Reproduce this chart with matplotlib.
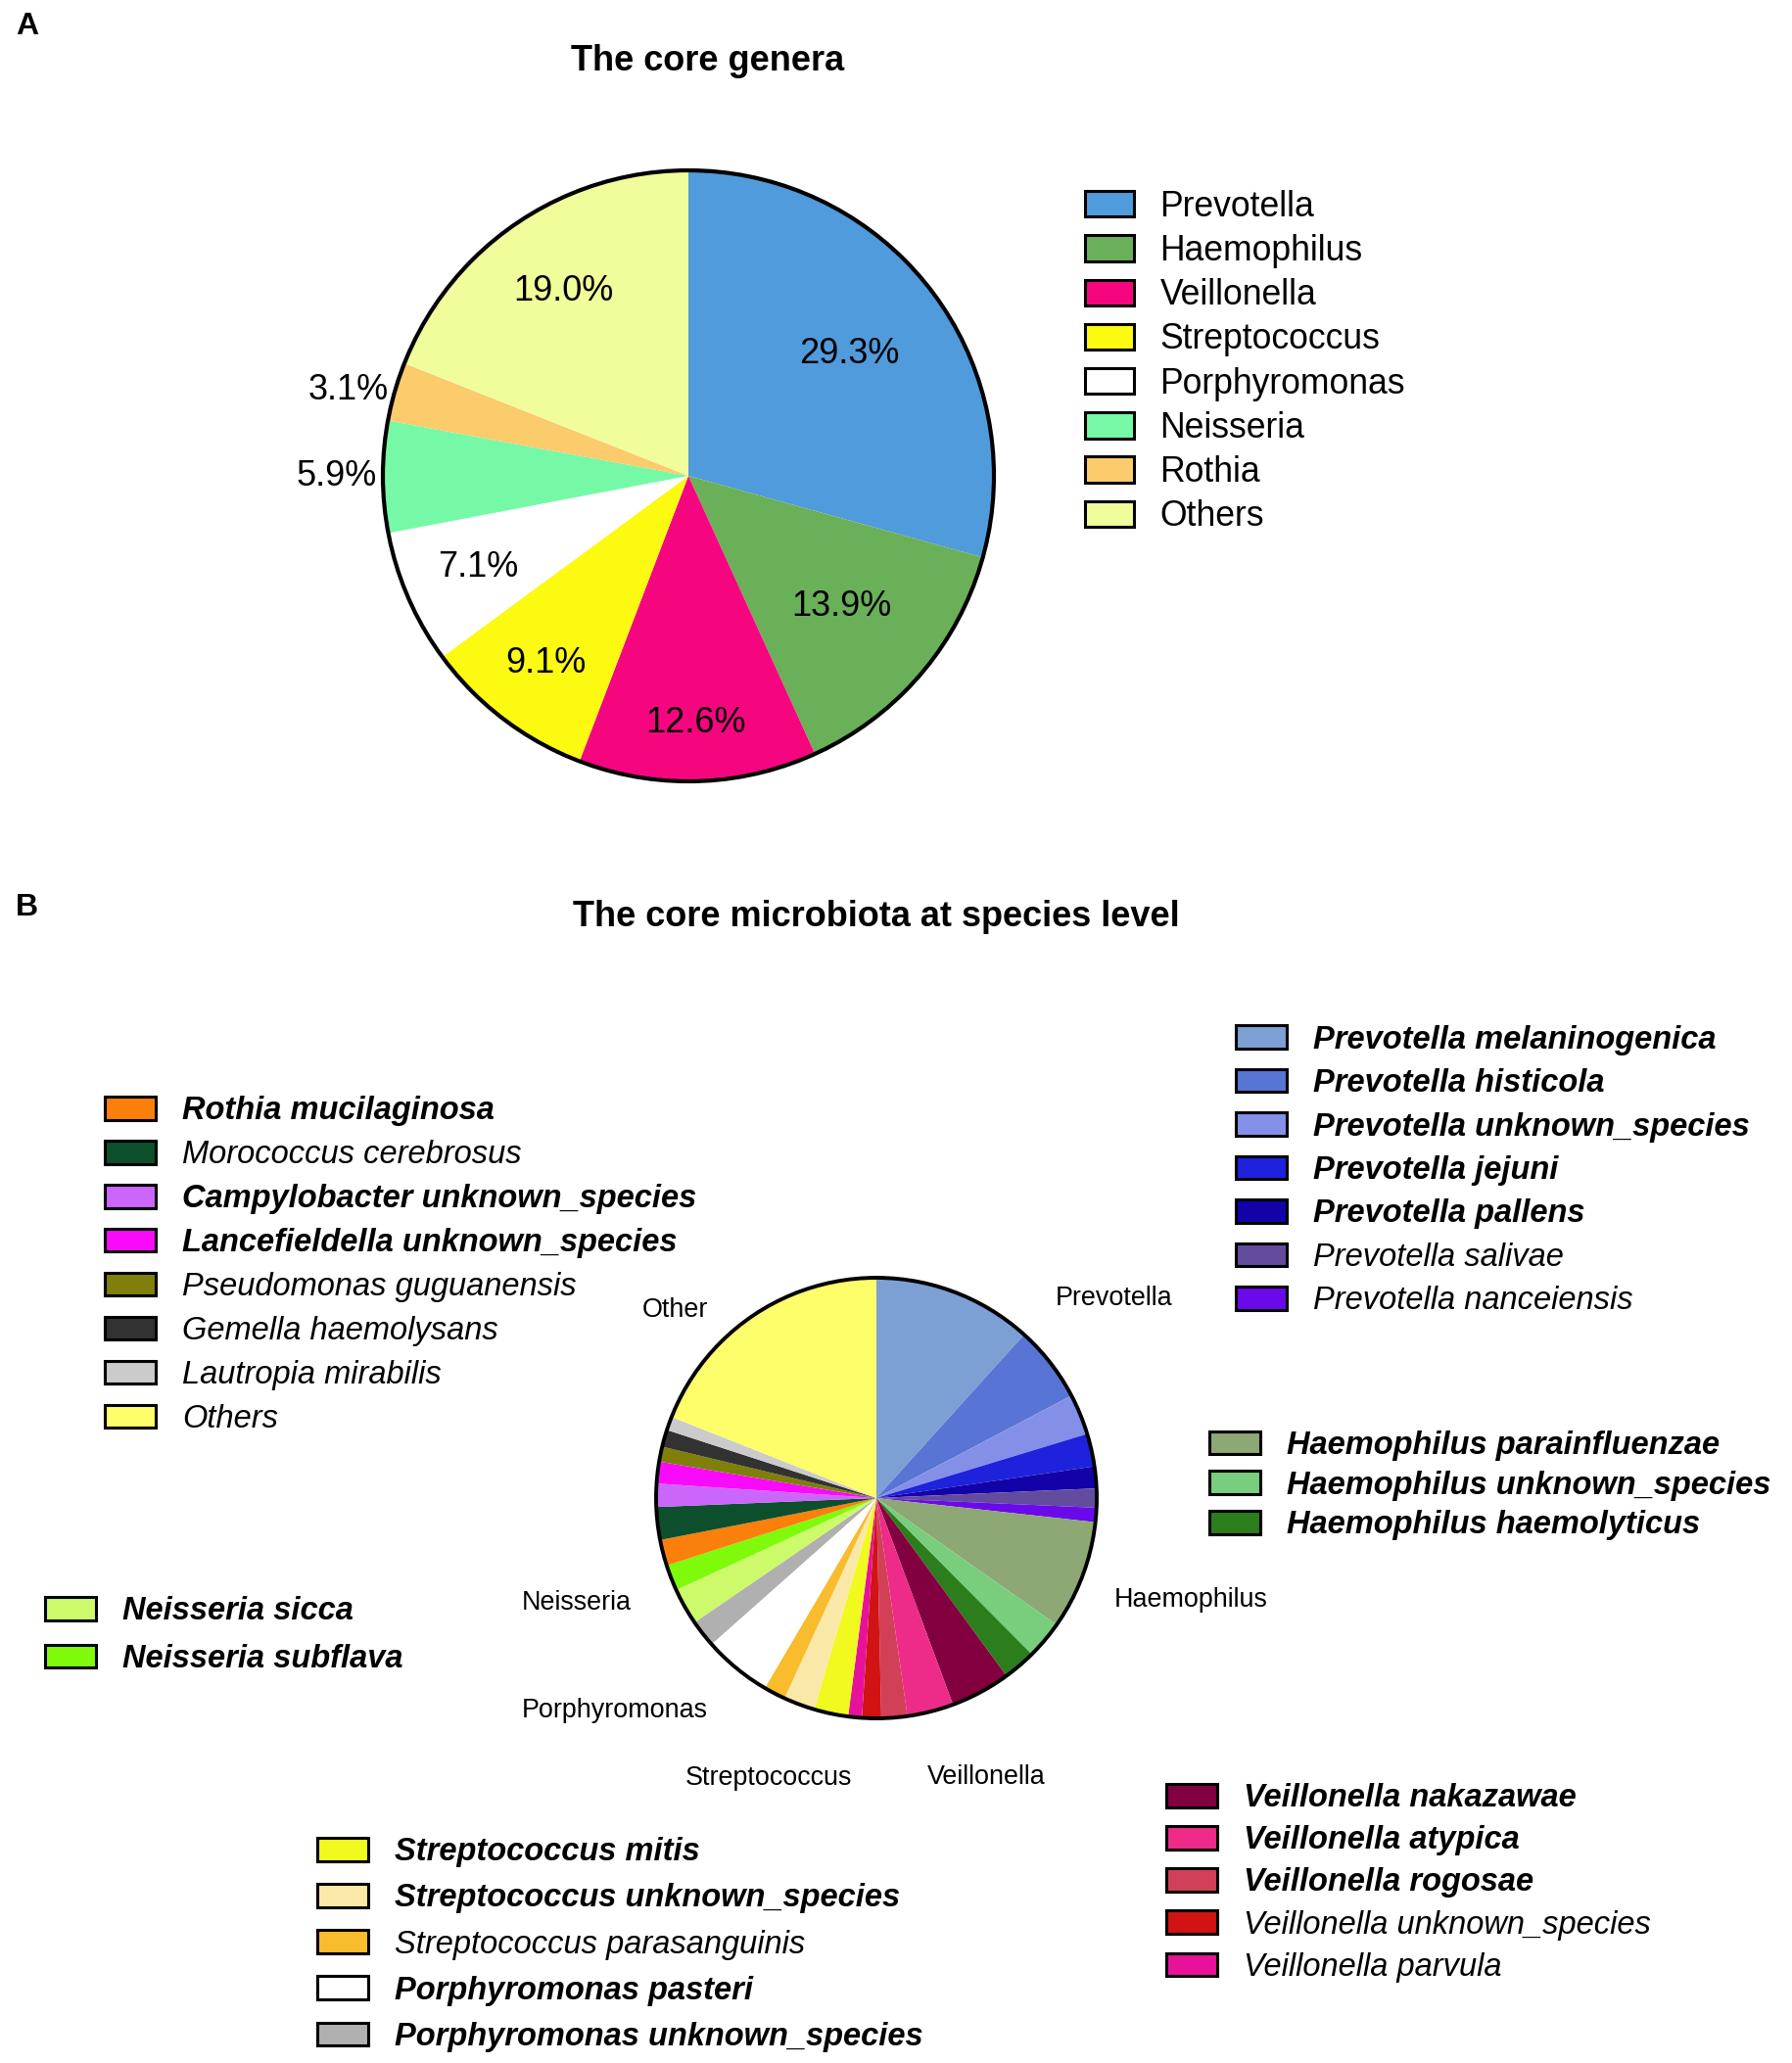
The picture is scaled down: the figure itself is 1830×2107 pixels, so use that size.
import matplotlib.pyplot as plt
from matplotlib.patches import Patch, Circle
import numpy as np

plt.rcParams['font.family'] = ['Liberation Sans', 'DejaVu Sans']

# ---- panel A: core genera (clockwise from 12 o'clock) ----
genera = ['Prevotella', 'Haemophilus', 'Veillonella', 'Streptococcus',
          'Porphyromonas', 'Neisseria', 'Rothia', 'Others']
genera_pct = [29.3, 13.9, 12.6, 9.1, 7.1, 5.9, 3.1, 19.0]
genera_colors = ['#509BDC', '#6AB058', '#F5067F', '#FCFA10',
                 '#FFFFFF', '#76F9A6', '#FBCB6C', '#F1FC9A']

# ---- panel B: core species (clockwise from 12 o'clock) ----
species = ['Prevotella melaninogenica', 'Prevotella histicola', 'Prevotella unknown_species',
           'Prevotella jejuni', 'Prevotella pallens', 'Prevotella salivae',
           'Prevotella nanceiensis',
           'Haemophilus parainfluenzae', 'Haemophilus unknown_species',
           'Haemophilus haemolyticus',
           'Veillonella nakazawae', 'Veillonella atypica', 'Veillonella rogosae',
           'Veillonella unknown_species', 'Veillonella parvula',
           'Streptococcus mitis', 'Streptococcus unknown_species',
           'Streptococcus parasanguinis',
           'Porphyromonas pasteri', 'Porphyromonas unknown_species',
           'Neisseria sicca', 'Neisseria subflava',
           'Rothia mucilaginosa', 'Morococcus cerebrosus', 'Campylobacter unknown_species',
           'Lancefieldella unknown_species', 'Pseudomonas guguanensis',
           'Gemella haemolysans', 'Lautropia mirabilis', 'Others']
species_pct = [11.7, 5.6, 3.0, 2.4, 1.6, 1.4, 1.05,
               8.0, 2.8, 2.4,
               4.4, 3.4, 1.9, 1.4, 1.0,
               2.5, 2.3, 1.6,
               5.0, 2.0,
               2.7, 1.9,
               1.9, 2.4, 1.7, 1.6, 1.1, 1.25, 1.0, 19.0]
species_colors = ['#7DA0D4', '#5874D4', '#8490E8', '#1E22DC', '#1202A8', '#634C9E', '#6A0AEA',
                  '#8DA875', '#78CE7C', '#2B7E1B',
                  '#820040', '#EE2B88', '#D24058', '#D11313', '#E8129A',
                  '#F0FA1E', '#FAE8A8', '#F8BC2C',
                  '#FFFFFF', '#B0B0B0',
                  '#CCFA6A', '#7FFA0A',
                  '#FB7F0B', '#0D4F2C', '#CA66FA', '#FA0AFA', '#7F7F0A', '#323232',
                  '#CBCBCB', '#FEFE6A']
# names printed in bold italic in the legends (the rest plain italic)
bold_species = {'Prevotella melaninogenica', 'Prevotella histicola',
                'Prevotella unknown_species', 'Prevotella jejuni', 'Prevotella pallens',
                'Haemophilus parainfluenzae', 'Haemophilus unknown_species',
                'Haemophilus haemolyticus',
                'Veillonella nakazawae', 'Veillonella atypica', 'Veillonella rogosae',
                'Streptococcus mitis', 'Streptococcus unknown_species',
                'Porphyromonas pasteri', 'Porphyromonas unknown_species',
                'Neisseria sicca', 'Neisseria subflava',
                'Rothia mucilaginosa', 'Campylobacter unknown_species',
                'Lancefieldella unknown_species'}

group_labels = ['Prevotella', 'Haemophilus', 'Veillonella', 'Streptococcus',
                'Porphyromonas', 'Neisseria', 'Other']

# ---- layout (pixels of the 1831x2107 canvas) ----
W, H, DPI = 1831, 2107, 100
# distance of the % labels from the centre of pie A (in radii); <0 = outside, right-aligned
pct_label_dist = [0.66, 0.66, 0.81, 0.77, 0.75, -1.02, -1.02, 0.73]
# angle clockwise from top (deg), distance in pie radii
group_label_pos = [(50, 1.41), (108, 1.50), (158.5, 1.36), (201, 1.36),
                   (231, 1.53), (250.7, 1.44), (313, 1.25)]
# species slice range, box left, first row y, last row y
species_legends = [(0, 7, 1262, 1064, 1327),
                   (7, 10, 1235, 1477, 1557),
                   (10, 15, 1191, 1838, 2008),
                   (15, 20, 324, 1893, 2079),
                   (20, 22, 46, 1646, 1694),
                   (22, 30, 107, 1137, 1447)]

fig = plt.figure(figsize=(W / DPI, H / DPI), dpi=DPI)
fig.patch.set_facecolor('white')


def fx(x):
    return x / W


def fy(y):
    return 1 - y / H


def pie_axes(cx, cy, r, lim):
    side = 2 * lim * r
    ax = fig.add_axes([fx(cx - side / 2), fy(cy + side / 2), side / W, side / H])
    return ax


def patch_legend(handles, labels, box_left, y_first, y_last, fs, box_w, box_h, gap,
                 k_row, **kw):
    # k_row: row height (in font sizes) before label spacing is added
    fs_px = fs * DPI / 72
    pitch = (y_last - y_first) / (len(labels) - 1)
    return fig.legend(handles, labels, loc='center left',
                      bbox_to_anchor=(fx(box_left), fy((y_first + y_last) / 2)),
                      bbox_transform=fig.transFigure, frameon=False,
                      borderpad=0, borderaxespad=0,
                      handlelength=box_w / fs_px, handleheight=box_h / fs_px,
                      handletextpad=gap / fs_px,
                      labelspacing=pitch / fs_px - k_row, **kw)


# ---------------- A ----------------
fig.text(fx(16), fy(27), 'A', fontsize=23, fontweight='bold', ha='left', va='center')
fig.text(fx(723), fy(63), 'The core genera', fontsize=26, fontweight='bold',
         ha='center', va='center')

LIM_A = 1.5
axA = pie_axes(703, 486, 312, LIM_A)
wedgesA, _ = axA.pie(genera_pct, colors=genera_colors, startangle=90,
                     counterclock=False, wedgeprops=dict(linewidth=0))
axA.add_patch(Circle((0, 0), 1, fill=False, ec='black', lw=3))
for w, v, d in zip(wedgesA, genera_pct, pct_label_dist):
    ang = np.deg2rad((w.theta1 + w.theta2) / 2)
    axA.text(abs(d) * np.cos(ang), abs(d) * np.sin(ang), f'{v:.1f}%',
             ha='right' if d < 0 else 'center', va='center', fontsize=26)
axA.set_xlim(-LIM_A, LIM_A)
axA.set_ylim(-LIM_A, LIM_A)
axA.axis('off')

handlesA = [Patch(facecolor=c, edgecolor='black', linewidth=2.2) for c in genera_colors]
patch_legend(handlesA, genera, 1108, 210.5, 528.4, 25.6, 50, 27, 26.5, 0.99,
             prop=dict(size=25.6))

# ---------------- B ----------------
fig.text(fx(16), fy(927), 'B', fontsize=23, fontweight='bold', ha='left', va='center')
fig.text(fx(895), fy(937), 'The core microbiota at species level', fontsize=26,
         fontweight='bold', ha='center', va='center')

LIM_B = 1.6
axB = pie_axes(895, 1530, 225, LIM_B)
wedgesB, _ = axB.pie(species_pct, colors=species_colors, startangle=90,
                     counterclock=False, wedgeprops=dict(linewidth=0))
axB.add_patch(Circle((0, 0), 1, fill=False, ec='black', lw=2.8))
for name, (a, d) in zip(group_labels, group_label_pos):
    a = np.deg2rad(a)
    axB.text(d * np.sin(a), d * np.cos(a), name, ha='center', va='center', fontsize=19.4)
axB.set_xlim(-LIM_B, LIM_B)
axB.set_ylim(-LIM_B, LIM_B)
axB.axis('off')

for i0, i1, box_left, y_first, y_last in species_legends:
    names = species[i0:i1]
    handles = [Patch(facecolor=c, edgecolor='black', linewidth=2.2)
               for c in species_colors[i0:i1]]
    leg = patch_legend(handles, names, box_left, y_first, y_last, 23.5, 52, 24, 27, 0.93,
                       prop=dict(size=23.5, style='italic'))
    for t in leg.get_texts():
        if t.get_text() in bold_species:
            t.set_fontweight('bold')

fig.savefig('out.png', dpi=DPI)
